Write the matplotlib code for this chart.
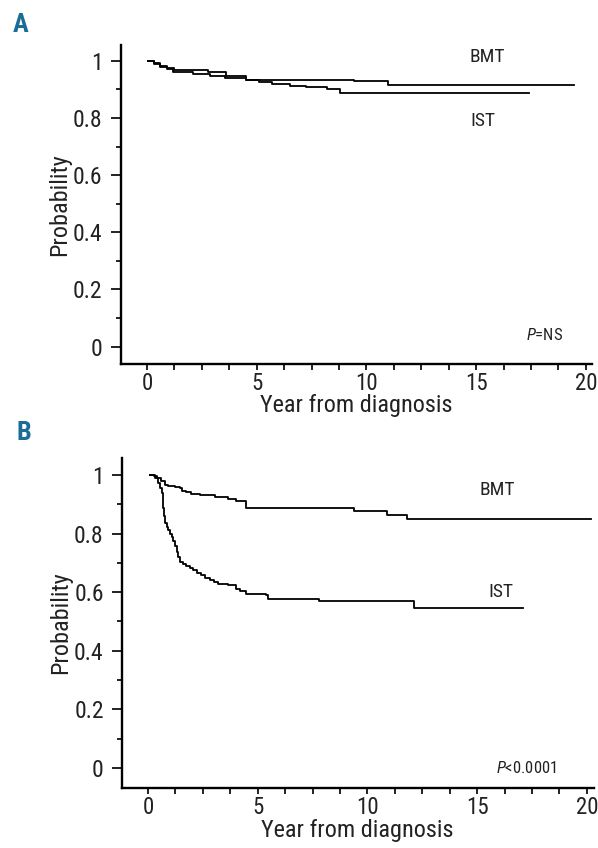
import matplotlib

matplotlib.use("Agg")
import matplotlib.pyplot as plt
from matplotlib.ticker import FixedLocator, MultipleLocator

plt.rcParams["font.family"] = ["Roboto Condensed", "Archivo Narrow", "DejaVu Sans"]
plt.rcParams["mathtext.fontset"] = "custom"
plt.rcParams["mathtext.rm"] = "Roboto Condensed"
plt.rcParams["mathtext.it"] = "Roboto Condensed:italic"

# Panel A: Kaplan-Meier step data (years, probability)
a_bmt_t = [0.06, 0.3, 0.6, 0.9, 1.25, 2.77, 3.6, 4.5, 9.45, 11.0, 19.45]
a_bmt_s = [1.0, 0.992, 0.982, 0.975, 0.968, 0.960, 0.948, 0.935, 0.929, 0.916, 0.916]
a_ist_t = [0.06, 0.3, 0.6, 0.9, 1.2, 2.1, 2.86, 3.55, 4.5, 5.1, 5.7, 6.5, 7.26, 8.2, 8.8, 17.4]
a_ist_s = [1.0, 0.99, 0.98, 0.972, 0.962, 0.953, 0.948, 0.941, 0.933, 0.927, 0.919, 0.913,
           0.907, 0.900, 0.888, 0.888]

# Panel B
b_bmt_t = [0.1, 0.25, 0.4, 0.6, 0.77, 0.92, 1.22, 1.45, 1.53, 1.75, 1.98, 2.36, 3.04, 3.64,
           4.0, 4.47, 9.4, 10.9, 11.8, 20.2]
b_bmt_s = [1.0, 0.996, 0.991, 0.98, 0.966, 0.962, 0.958, 0.954, 0.945, 0.941, 0.936, 0.930,
           0.925, 0.917, 0.912, 0.888, 0.876, 0.864, 0.848, 0.848]
b_ist_t = [0.1, 0.3, 0.45, 0.55, 0.62, 0.66, 0.69, 0.73, 0.77, 0.85, 0.92, 1.0, 1.07, 1.15,
           1.22, 1.3, 1.37, 1.45, 1.6, 1.75, 1.9, 2.05, 2.25, 2.43, 2.6, 2.81, 3.0, 3.19,
           3.64, 4.02, 4.2, 4.47, 5.38, 5.46, 7.8, 12.1, 17.1]
b_ist_s = [1.0, 0.99, 0.972, 0.955, 0.937, 0.91, 0.886, 0.86, 0.836, 0.824, 0.812, 0.80,
           0.789, 0.775, 0.756, 0.738, 0.72, 0.704, 0.697, 0.690, 0.683, 0.675, 0.667,
           0.658, 0.650, 0.641, 0.635, 0.629, 0.624, 0.612, 0.604, 0.595, 0.589, 0.578,
           0.570, 0.545, 0.545]

x_ticks = [0, 5, 10, 15, 20]
y_ticks = [0, 0.2, 0.4, 0.6, 0.8, 1.0]
y_tick_labels = ["0", "0.2", "0.4", "0.6", "0.8", "1"]

TEAL = "#1b6d96"
INK = "#222222"


def style_axis(axis, ylim):
    axis.set_xlim(-1.2, 20.3)
    axis.set_ylim(*ylim)
    for side in ("top", "right"):
        axis.spines[side].set_visible(False)
    for side in ("left", "bottom"):
        axis.spines[side].set_linewidth(1.7)
    axis.xaxis.set_major_locator(FixedLocator(x_ticks))
    axis.xaxis.set_minor_locator(MultipleLocator(1.25))
    axis.set_yticks(y_ticks)
    axis.set_yticklabels(y_tick_labels)
    axis.yaxis.set_minor_locator(MultipleLocator(0.1))
    axis.tick_params(axis="y", which="major", length=7, width=1.4, labelsize=17, pad=6, colors=INK)
    axis.tick_params(axis="y", which="minor", length=3.6, width=1.4, color=INK)
    axis.tick_params(axis="x", which="major", length=4.5, width=1.4, labelsize=16.5, pad=1, colors=INK)
    axis.tick_params(axis="x", which="minor", length=4.5, width=1.4, color=INK)
    axis.set_xlabel("Year from diagnosis", fontsize=17.5, color=INK)
    axis.set_ylabel("Probability", fontsize=17.5, color=INK)
    axis.yaxis.set_label_coords(-0.105, 0.5)
    axis.xaxis.set_label_coords(0.5, -0.094)


fig = plt.figure(figsize=(5.98, 8.48), dpi=100)
ax_a = fig.add_axes([0.2018, 0.5708, 0.789, 0.3762])
ax_b = fig.add_axes([0.2035, 0.0708, 0.789, 0.3892])

ax_a.step(a_bmt_t, a_bmt_s, where="post", color="black", linewidth=1.3)
ax_a.step(a_ist_t, a_ist_s, where="post", color="black", linewidth=1.3)
style_axis(ax_a, (-0.061, 1.056))
ax_a.text(15.5, 1.014, "BMT", fontsize=14, ha="center", va="center", color=INK)
ax_a.text(15.3, 0.788, "IST", fontsize=14, ha="center", va="center", color=INK)
ax_a.text(18.1, 0.04, r"$P$=NS", fontsize=12, ha="center", va="center", color=INK)

ax_b.step(b_bmt_t, b_bmt_s, where="post", color="black", linewidth=1.3)
ax_b.step(b_ist_t, b_ist_s, where="post", color="black", linewidth=1.3)
style_axis(ax_b, (-0.068, 1.058))
ax_b.text(15.9, 0.947, "BMT", fontsize=14, ha="center", va="center", color=INK)
ax_b.text(16.1, 0.60, "IST", fontsize=14, ha="center", va="center", color=INK)
ax_b.text(17.25, 0.0, r"$P$<0.0001", fontsize=12, ha="center", va="center", color=INK)

fig.text(13 / 598, 1 - 24.5 / 848, "A", fontsize=19, fontweight="bold", color=TEAL,
         ha="left", va="center")
fig.text(16 / 598, 1 - 433 / 848, "B", fontsize=19, fontweight="bold", color=TEAL,
         ha="left", va="center")

fig.savefig("out.png", dpi=100)
plt.close(fig)
